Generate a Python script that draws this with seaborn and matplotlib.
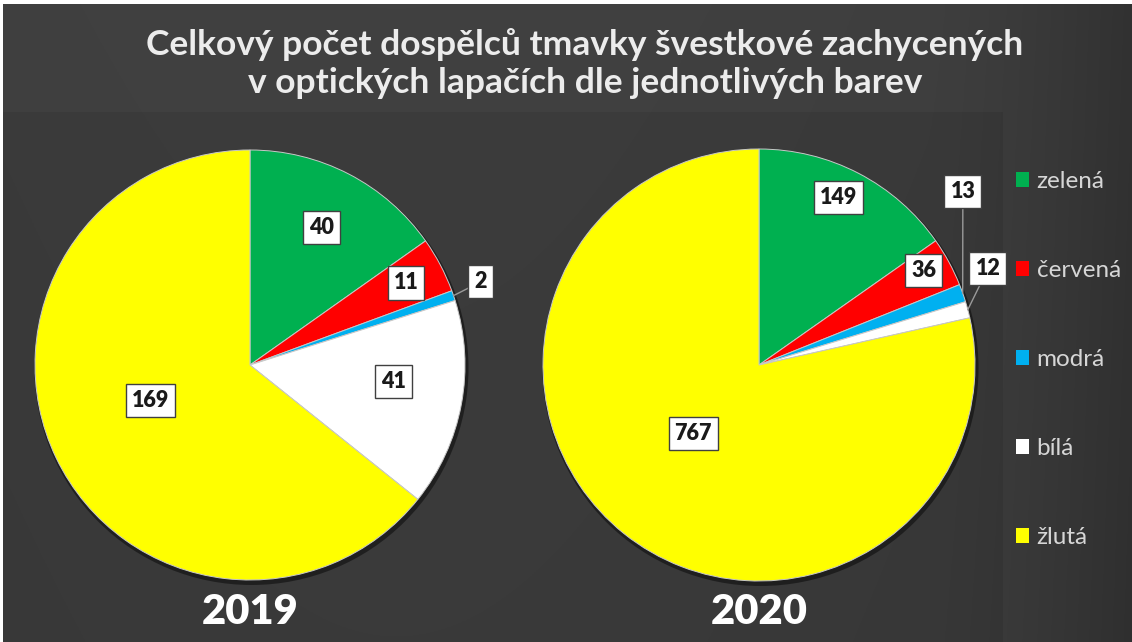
import numpy as np
import matplotlib
matplotlib.use("Agg")
import matplotlib.pyplot as plt
import seaborn as sns
from matplotlib.patches import Rectangle, Circle

# ---------------- data ----------------
categories = ["zelená", "červená", "modrá", "bílá", "žlutá"]
colors_hex = ["#00b050", "#ff0000", "#00b0f0", "#ffffff", "#ffff00"]
years = ["2019", "2020"]
values_2019 = [40, 11, 2, 41, 169]
values_2020 = [149, 36, 13, 12, 767]
title_lines = ["Celkový počet dospělců tmavky švestkové zachycených",
               "v optických lapačích dle jednotlivých barev"]

# label placement (radius fraction, angle offset from wedge middle, leader line)
label_pos_2019 = [(0.72, 0, False), (0.82, 0, False), (1.14, 1, True),
                  (0.67, 4, False), (0.49, -6, False)]
label_pos_2020 = [(0.86, 2, False), (0.88, 1.4, False), (1.24, 21, True),
                  (1.15, 8, True), (0.44, -5, False)]

# ---------------- style ----------------
sns.set_theme(style="dark")
plt.rcParams['font.family'] = ['Lato', 'DejaVu Sans']
palette = sns.color_palette(colors_hex)

W, H = 1132, 642
fig = plt.figure(figsize=(W / 100, H / 100), dpi=100)

# background gradient
bg = fig.add_axes([0, 0, 1, 1])
gx = np.linspace(0, 1, 600)
gy = np.linspace(0, 1, 340)
GX, GY = np.meshgrid(gx, gy)
v = 0.235 + 0.012 * np.cos((GX - 0.35) * 3.0) - 0.045 * np.clip((GX - 0.82) / 0.18, 0, 1) ** 1.5
v = v + 0.008 * (1 - GY)
img = np.dstack([v, v, v])
bg.imshow(img, extent=[0, 1, 0, 1], aspect='auto', origin='upper')
bg.set_axis_off()

ax = fig.add_axes([0, 0, 1, 1])
ax.set_facecolor((0, 0, 0, 0))
ax.patch.set_alpha(0)


def Y(y_img):
    return H - y_img


# plot-area rectangle (slightly darker)
ax.add_patch(Rectangle((3, 0), 1000, H - 112, facecolor='black', alpha=0.07,
                       edgecolor='none', zorder=0))
# white border strips (top, left)
ax.add_patch(Rectangle((0, H - 4), W, 4, facecolor='white', edgecolor='none', zorder=10))
ax.add_patch(Rectangle((0, 0), 3, H, facecolor='white', edgecolor='none', zorder=10))

pies = [
    (values_2019, (250, 365), 215, label_pos_2019, years[0]),
    (values_2020, (759, 365), 216, label_pos_2020, years[1]),
]

for vals, (cx, cy), R, lpos, yr in pies:
    c = (cx, Y(cy))
    ax.add_patch(Circle((c[0] + 1.5, c[1] - 3), R + 2, facecolor='black', alpha=0.45,
                        edgecolor='none', zorder=1))
    wedges, _ = ax.pie(vals, colors=palette, startangle=90, counterclock=False,
                       center=c, radius=R,
                       wedgeprops=dict(edgecolor='#c8c8c8', linewidth=0.7, zorder=2))
    for w in wedges:
        w.set_zorder(2)
    for w, val, (rf, off, leader) in zip(wedges, vals, lpos):
        mid = (w.theta1 + w.theta2) / 2.0
        ang = np.deg2rad(mid + off)
        lx = c[0] + rf * R * np.cos(ang)
        ly = c[1] + rf * R * np.sin(ang)
        if leader:
            ma = np.deg2rad(mid)
            ex = c[0] + R * np.cos(ma)
            ey = c[1] + R * np.sin(ma)
            ax.plot([ex, lx], [ey, ly], color='#9a9a9a', lw=1.0, zorder=3)
        ax.text(lx, ly, str(val), ha='center', va='center', fontsize=15.5,
                fontweight='heavy', color='#1a1a1a', zorder=5,
                bbox=dict(boxstyle='square,pad=0.28', facecolor='white',
                          edgecolor='#404040', linewidth=1.0))
    ax.text(cx, Y(612), yr, ha='center', va='center', fontsize=30,
            fontweight='heavy', color='white', zorder=5)

ax.set_xlim(0, W)
ax.set_ylim(0, H)
ax.set_aspect('auto')
ax.set_axis_off()

# title
fig.text(585 / W, 1 - 45 / H, title_lines[0], ha='center', va='center',
         fontsize=25.5, fontweight='bold', color='#ececec')
fig.text(585 / W, 1 - 83 / H, title_lines[1], ha='center', va='center',
         fontsize=25.5, fontweight='bold', color='#ececec')

# legend
handles = [Rectangle((0, 0), 1, 1, facecolor=col, edgecolor='none') for col in palette]
fig.legend(handles, categories, loc='upper left',
           bbox_to_anchor=(1016 / W, 1 - 171 / H), frameon=False, fontsize=17.5,
           labelcolor='#d6d6d6', handlelength=0.55, handleheight=0.55,
           handletextpad=0.3, labelspacing=2.8, borderpad=0, borderaxespad=0)

fig.savefig("out.png", dpi=100)
